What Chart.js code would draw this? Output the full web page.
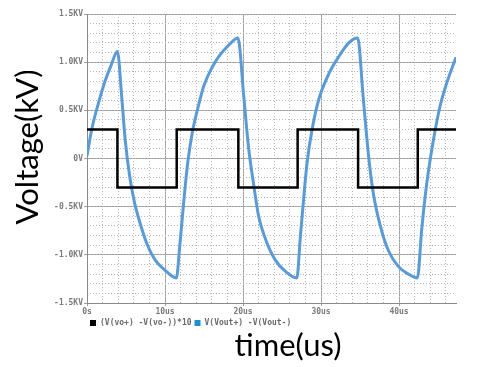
<!DOCTYPE html>
<html>
<head>
<meta charset="utf-8">
<script src="https://cdn.jsdelivr.net/npm/chart.js@4.4.0/dist/chart.umd.min.js"></script>
<style>
  body { margin: 0; background: #fff; }
  #chart { display: block; }
</style>
</head>
<body>
<canvas id="chart" width="494" height="367"></canvas>
<script>
// V(Vout+) - V(Vout-) in kV
const timeUs = [0, 0.6, 1.45, 2.3, 3.1, 3.9, 4.45, 4.9, 5.5, 6.1, 6.8, 7.65, 8.7, 10.0, 11.45,
  11.9, 12.4, 12.9, 13.5, 14.2, 15.0, 16.0, 17.0, 18.1, 19.35, 20.1, 20.7, 21.4, 22.0, 22.9, 24.1, 25.4, 26.9,
  27.35, 27.8, 28.2, 28.85, 29.7, 31.0, 32.3, 33.55, 34.7, 35.4, 36.1, 36.7, 37.6, 38.6, 39.9, 41.2, 42.35,
  42.9, 43.55, 44.4, 45.25, 46.1, 47.3];
const vout = [0.03, 0.3, 0.57, 0.8, 0.97, 1.11, 0.64, 0.19, -0.2, -0.46, -0.67, -0.88, -1.05, -1.16, -1.24,
  -0.9, -0.45, -0.05, 0.27, 0.52, 0.76, 0.94, 1.07, 1.17, 1.25, 0.64, 0.12, -0.29, -0.6, -0.84, -1.05, -1.17, -1.24,
  -0.81, -0.39, -0.05, 0.3, 0.61, 0.88, 1.06, 1.2, 1.25, 0.64, 0.02, -0.36, -0.7, -0.95, -1.12, -1.2, -1.24,
  -0.74, -0.26, 0.19, 0.54, 0.78, 1.05];

// (V(vo+) - V(vo-))*10 square wave: level that starts at each edge time
const edgeTimes = [0, 3.9, 11.5, 19.4, 27.0, 34.75, 42.4, 47.3];
const edgeLevels = [0.3, -0.3, 0.3, -0.3, 0.3, -0.3, 0.3, 0.3];

const xTickLabels = ['0s', '10us', '20us', '30us', '40us'];
const yTickLabels = ['-1.5KV', '-1.0KV', '-0.5KV', '0V', '0.5KV', '1.0KV', '1.5KV'];
const seriesNames = ['(V(vo+) -V(vo-))*10', 'V(Vout+) -V(Vout-)'];
const legendColors = ['#000000', '#1f8fd2'];

const tickFont = { family: 'DejaVu Sans Mono', size: 8, weight: 'bold' };
const tickColor = '#7a7a7a';

const axisTitles = {
  id: 'axisTitles',
  afterDraw(chart) {
    const ctx = chart.ctx;
    ctx.save();
    ctx.fillStyle = '#000';
    ctx.font = '31px Lato';
    ctx.textAlign = 'center';
    ctx.textBaseline = 'middle';
    ctx.fillText('time(us)', 288, 346);
    ctx.translate(28, 147);
    ctx.rotate(-Math.PI / 2);
    ctx.fillText('Voltage(kV)', 0, 0);
    ctx.restore();
  }
};

new Chart(document.getElementById('chart'), {
  type: 'line',
  data: {
    datasets: [{
      label: seriesNames[0],
      data: edgeTimes.map((t, i) => ({ x: t, y: edgeLevels[i] })),
      borderColor: '#000',
      backgroundColor: legendColors[0],
      borderWidth: 2.5,
      stepped: 'before',
      pointRadius: 0
    }, {
      label: seriesNames[1],
      data: timeUs.map((t, i) => ({ x: t, y: vout[i] })),
      borderColor: '#5b9bd5',
      backgroundColor: legendColors[1],
      borderWidth: 3,
      cubicInterpolationMode: 'monotone',
      pointRadius: 0
    }]
  },
  options: {
    responsive: false,
    animation: false,
    layout: { padding: { left: 0, right: 38, top: 14, bottom: 30 } },
    scales: {
      x: {
        type: 'linear', position: 'bottom', min: 0, max: 47.3,
        ticks: {
          stepSize: 10, includeBounds: false, autoSkip: false, maxRotation: 0, padding: 1,
          font: tickFont, color: tickColor,
          callback: v => xTickLabels[Math.round(v / 10)]
        },
        grid: { color: '#a0a0a0', tickLength: 3 },
        border: { color: '#8a8a8a' },
        afterFit: s => { s.height = 13; }
      },
      xMinor: {
        type: 'linear', position: 'bottom', min: 0, max: 47.3,
        ticks: { stepSize: 2, includeBounds: false, display: false },
        grid: { color: '#b8b8b8', drawTicks: false },
        border: { display: false, dash: [1, 2] },
        afterFit: s => { s.height = 0; }
      },
      y: {
        min: -1.5, max: 1.5,
        ticks: {
          stepSize: 0.5, padding: 1, font: tickFont, color: tickColor,
          callback: v => yTickLabels[Math.round((v + 1.5) / 0.5)]
        },
        grid: { color: '#a0a0a0', tickLength: 3 },
        border: { color: '#8a8a8a' },
        afterFit: s => { s.width = 87; }
      },
      yMinor: {
        position: 'left', min: -1.5, max: 1.5,
        ticks: { stepSize: 0.1, display: false },
        grid: { color: '#b8b8b8', drawTicks: false },
        border: { display: false, dash: [1, 2] },
        afterFit: s => { s.width = 0; }
      }
    },
    plugins: {
      tooltip: { enabled: false },
      legend: {
        position: 'bottom', align: 'start', fullSize: false,
        labels: {
          boxWidth: 6, boxHeight: 6, padding: 3,
          font: tickFont, color: '#6a6a6a',
          generateLabels: chart => chart.data.datasets.map((ds, i) => ({
            text: seriesNames[i], fillStyle: legendColors[i], strokeStyle: legendColors[i],
            lineWidth: 0, hidden: false, datasetIndex: i, fontColor: '#6a6a6a'
          }))
        }
      }
    }
  },
  plugins: [axisTitles]
});
</script>
</body>
</html>
